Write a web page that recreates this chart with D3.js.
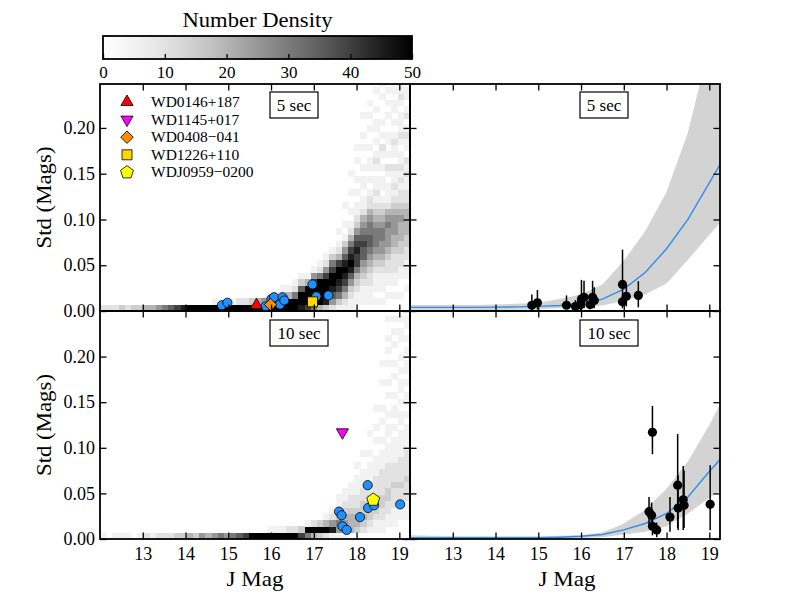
<!DOCTYPE html>
<html><head><meta charset="utf-8">
<script src="https://cdn.jsdelivr.net/npm/d3@7"></script>
<style>
body{margin:0;background:#fff}
svg{display:block}
text{font-family:"Liberation Serif","DejaVu Serif",serif;fill:#000}
</style>
</head><body>
<svg id="c" width="800" height="600"></svg>
<script>
// ---------------- data ----------------
const xTicks = [13,14,15,16,17,18,19];
const yTicks = [0,0.05,0.10,0.15,0.20];
const cbTicks = [0,10,20,30,40,50];
const panelLabels = ["5 sec","10 sec"];
const legendNames = ["WD0146+187","WD1145+017","WD0408\u2212041","WD1226+110","WDJ0959\u22120200"];
const legendKinds = ["tri","tridown","dia","sq","pent"];

// 2D histogram (number density), bins of 0.145 mag in J starting at 12.0 and 0.007 mag in Std.
// each string = one J column, characters = rows from Std=0 upward; '.'/'0' = 0, digit d = 5*d, 'X' = 50
const histJ0 = 12.0, histDJ = 0.145, histDS = 0.007;
const hist5 = [
 "2","2","2","3","2","3","3","4","4","5","6","7","8","9",
 "X","X","X","X","X1","X","X1","X1","X2","X2","X3","X4","X5","X61",
 "X72","X831","XX41","XX621","9XX731","8XXX41","6XXX851","4XXXX621","39XXX8521",
 "2579XX8631","13689XX8421.1","124689X97531.1..1",
 "1123579X986421.1..1..1","01123468898753211.1.1..1.1",
 "011123457787654211.11.1..1.1..1","0111223456776654221.1.11.1..1.1.1",
 "010111234566654321211.121.1.11.1..1",
 "010111234556654321.11.1.12.1.1...1.1",
 "00101122345556542111.12.1.11..1.1.1.",
 "00101122234455543212112.1121.1.11.1.",
 "0010011223344454322121211.12111.1211",
 "000101112233444432211212.1121.21.11."
];
const hist10 = [
 "1",".","1","1","1",".","1","2","1","2","2","2","3","3",
 "4","3","5","4","5","6","5","6","7","8","X","X","X","X1",
 "X1","X1","X2","X2","83","6X1","4X2","3X3","2X41","19521",
 "1563211","14543211","044432211","0344322111.1",
 "02343322111..1","012333322111.1..1","0112333222111..1.1..1",
 "01122332222111.1..1.1...1..1",
 "001122332222111.11.1..1.1..1.1.1..1",
 "0011122232221111.1.11.1..1.1..1.1.1",
 "00011122322221111.11.1.11.1.1..11.1",
 "000111222322221111.1.11.1.11.1.1.11"
];

// measured stars, 5 sec
const s5J   = [14.85,14.98,15.66,15.87,15.99,16.01,16.07,16.21,16.27,16.31,16.97,17.06,16.97,17.34];
const s5Std = [0.0063,0.009,0.0063,0.005,0.007,0.013,0.015,0.007,0.015,0.0115,0.029,0.016,0.010,0.017];
const s5Lo  = [0.001,0.0016,0.002,0.001,0.001,0.002,0.003,0.002,0.003,0.003,0.007,0.005,0.003,0.004];
const s5Hi  = [0.018,0.023,0.017,0.012,0.016,0.034,0.033,0.012,0.033,0.026,0.067,0.028,0.016,0.0325];
const s5Kind= ["c","c","tri","c","dia","c","c","c","c","c","c","c","sq","c"];
// measured stars, 10 sec
const s10J   = [17.59,17.65,17.67,17.77,18.08,18.26,18.27,18.41,19.02,17.67,18.39];
const s10Std = [0.030,0.026,0.014,0.010,0.024,0.059,0.034,0.037,0.038,0.117,0.043];
const s10Lo  = [0.015,0.010,0.004,0.002,0.008,0.012,0.010,0.012,0.010,0.093,0.010];
const s10Hi  = [0.046,0.040,0.025,0.018,0.046,0.115,0.070,0.075,0.081,0.146,0.080];
const s10Kind= ["c","c","c","c","c","c","c","c","c","tridown","pent"];

// median trend and spread
const curveJ  = [12,12.5,13,13.5,14,14.5,15,15.5,16,16.5,17,17.5,18,18.5,19,19.5];
const med5    = [0.004,0.004,0.004,0.004,0.0042,0.0045,0.005,0.006,0.008,0.013,0.024,0.042,0.068,0.100,0.140,0.180];
const band5Lo = [0.001,0.001,0.001,0.001,0.0012,0.0015,0.002,0.003,0.004,0.006,0.011,0.018,0.030,0.056,0.083,0.110];
const band5Hi = [0.0065,0.0065,0.0065,0.0066,0.007,0.008,0.009,0.013,0.018,0.029,0.055,0.087,0.130,0.195,0.290,0.380];
const med10    = [0.0015,0.0015,0.0015,0.0015,0.0015,0.0015,0.0015,0.002,0.003,0.005,0.010,0.017,0.028,0.046,0.074,0.100];
const band10Lo = [0.0005,0.0005,0.0005,0.0005,0.0005,0.0005,0.0005,0.0007,0.001,0.002,0.005,0.008,0.014,0.028,0.045,0.060];
const band10Hi = [0.004,0.0035,0.003,0.003,0.003,0.003,0.003,0.0035,0.004,0.007,0.017,0.032,0.055,0.085,0.125,0.170];

// ---------------- drawing ----------------
const FONT = '"Liberation Serif","DejaVu Serif",serif';
const svg = d3.select("#c");
const defs = svg.append("defs");

const colX = {L:[100,410], R:[410,720]};
const rowY = {T:[84,311], B:[311,539]};
const yMax = {T:0.248, B:0.25};

const kindColor = {c:"#1e90ff",tri:"#ff0000",tridown:"#ff00ff",dia:"#ff8c00",sq:"#ffd700",pent:"#ffff00"};

function markerPath(kind){
  switch(kind){
    case "c": return d3.symbol(d3.symbolCircle, Math.PI*4.6*4.6)();
    case "tri": return d3.symbol(d3.symbolTriangle, 64)();
    case "tridown": return d3.symbol(d3.symbolTriangle, 64)();
    case "dia": return d3.symbol(d3.symbolSquare, 78)();
    case "sq": return d3.symbol(d3.symbolSquare, 100)();
    case "pent": {
      const r = 6.8, pts=[];
      for(let i=0;i<5;i++){const a=-Math.PI/2+i*2*Math.PI/5; pts.push([r*Math.cos(a), r*Math.sin(a)]);}
      return "M"+pts.map(p=>p.join(",")).join("L")+"Z";
    }
  }
}
function markerRot(kind){ return kind==="tridown"?180:(kind==="dia"?45:0); }

function makePanel(cKey, rKey, id){
  const x = d3.scaleLinear().domain([12,19.25]).range(colX[cKey]);
  const y = d3.scaleLinear().domain([0,yMax[rKey]]).range([rowY[rKey][1], rowY[rKey][0]]);
  defs.append("clipPath").attr("id",id).append("rect")
    .attr("x",colX[cKey][0]).attr("y",rowY[rKey][0])
    .attr("width",colX[cKey][1]-colX[cKey][0]).attr("height",rowY[rKey][1]-rowY[rKey][0]);
  const g = svg.append("g");
  const inner = g.append("g").attr("clip-path",`url(#${id})`);
  return {x,y,g,inner,cKey,rKey};
}

function drawHist(p, cols){
  const cells=[];
  cols.forEach((s,c)=>{for(let r=0;r<s.length;r++){const ch=s[r]; if(ch==="."||ch==="0") continue; cells.push({c,r,v: ch==="X"?50:(+ch)*5});}});
  p.inner.append("g").attr("shape-rendering","crispEdges").selectAll("rect").data(cells).join("rect")
    .attr("x",d=>p.x(histJ0+d.c*histDJ))
    .attr("width",d=>p.x(histJ0+(d.c+1)*histDJ)-p.x(histJ0+d.c*histDJ)+0.5)
    .attr("y",d=>p.y((d.r+1)*histDS))
    .attr("height",d=>p.y(d.r*histDS)-p.y((d.r+1)*histDS)+0.5)
    .attr("fill",d=>d3.interpolateGreys(d.v/50));
}

function drawMarkers(p, J, S, K){
  const data = J.map((j,i)=>({j,s:S[i],k:K[i]}));
  data.sort((a,b)=>(a.k==="c"?0:1)-(b.k==="c"?0:1));
  p.inner.append("g").selectAll("path").data(data).join("path")
    .attr("d",d=>markerPath(d.k))
    .attr("transform",d=>`translate(${p.x(d.j)},${p.y(d.s)}) rotate(${markerRot(d.k)})`)
    .attr("fill",d=>kindColor[d.k]).attr("stroke","#000").attr("stroke-width",0.8);
}

function drawTrend(p, med, lo, hi, J, S, L, H){
  const area = d3.area().x((d,i)=>p.x(curveJ[i])).y0((d,i)=>p.y(lo[i])).y1((d,i)=>p.y(hi[i]));
  p.inner.append("path").datum(curveJ).attr("d",area).attr("fill","#d3d3d3");
  const line = d3.line().x((d,i)=>p.x(curveJ[i])).y((d,i)=>p.y(med[i]));
  p.inner.append("path").datum(curveJ).attr("d",line).attr("fill","none").attr("stroke","#2f8fe8").attr("stroke-width",1.4);
  const data = J.map((j,i)=>({j,s:S[i],lo:L[i],hi:H[i]}));
  p.inner.append("g").selectAll("line").data(data).join("line")
    .attr("x1",d=>p.x(d.j)).attr("x2",d=>p.x(d.j))
    .attr("y1",d=>p.y(d.lo)).attr("y2",d=>p.y(d.hi))
    .attr("stroke","#000").attr("stroke-width",1.5);
  p.inner.append("g").selectAll("circle").data(data).join("circle")
    .attr("cx",d=>p.x(d.j)).attr("cy",d=>p.y(d.s)).attr("r",4.6).attr("fill","#000");
}

function drawFrame(p, showX, showY){
  const [x0,x1]=colX[p.cKey], [y0,y1]=rowY[p.rKey];
  const styleAxis = sel => { sel.select(".domain").remove(); sel.attr("font-family",FONT).attr("font-size",18);
    sel.selectAll(".tick line").attr("stroke","#000").attr("stroke-width",1.3); };
  p.g.append("g").attr("transform",`translate(0,${y1})`)
    .call(d3.axisBottom(p.x).tickValues(xTicks).tickSizeInner(-6.5).tickSizeOuter(0).tickPadding(8)
      .tickFormat(showX?d3.format("d"):()=>"")).call(styleAxis);
  p.g.append("g").attr("transform",`translate(0,${y0})`)
    .call(d3.axisTop(p.x).tickValues(xTicks).tickSizeInner(-6.5).tickSizeOuter(0).tickFormat(()=>"")).call(styleAxis);
  p.g.append("g").attr("transform",`translate(${x0},0)`)
    .call(d3.axisLeft(p.y).tickValues(yTicks).tickSizeInner(-6.5).tickSizeOuter(0).tickPadding(5)
      .tickFormat(showY?d3.format(".2f"):()=>"")).call(styleAxis);
  p.g.append("g").attr("transform",`translate(${x1},0)`)
    .call(d3.axisRight(p.y).tickValues(yTicks).tickSizeInner(-6.5).tickSizeOuter(0).tickFormat(()=>"")).call(styleAxis);
  p.g.append("rect").attr("x",x0).attr("y",y0).attr("width",x1-x0).attr("height",y1-y0)
    .attr("fill","none").attr("stroke","#000").attr("stroke-width",1.8);
}

function drawLabelBox(p, txt, w){
  const bx = colX[p.cKey][0]+170, by = rowY[p.rKey][0]+ (p.rKey==="T"?8:9);
  p.g.append("rect").attr("x",bx).attr("y",by).attr("width",w).attr("height",26)
    .attr("fill","#fff").attr("stroke","#000").attr("stroke-width",1.2);
  p.g.append("text").attr("x",bx+w/2).attr("y",by+18.5).attr("text-anchor","middle")
    .attr("font-size",17).text(txt);
}

// panels
const pTL = makePanel("L","T","clipTL");
const pTR = makePanel("R","T","clipTR");
const pBL = makePanel("L","B","clipBL");
const pBR = makePanel("R","B","clipBR");

drawHist(pTL, hist5);
drawHist(pBL, hist10);
drawMarkers(pTL, s5J, s5Std, s5Kind);
drawMarkers(pBL, s10J, s10Std, s10Kind);
drawTrend(pTR, med5, band5Lo, band5Hi, s5J, s5Std, s5Lo, s5Hi);
drawTrend(pBR, med10, band10Lo, band10Hi, s10J, s10Std, s10Lo, s10Hi);

drawFrame(pTL,false,true);
drawFrame(pTR,false,false);
drawFrame(pBL,true,true);
drawFrame(pBR,true,false);

drawLabelBox(pTL,panelLabels[0],48);
drawLabelBox(pTR,panelLabels[0],48);
drawLabelBox(pBL,panelLabels[1],58);
drawLabelBox(pBR,panelLabels[1],58);

// legend
const leg = svg.append("g");
legendNames.forEach((n,i)=>{
  const yy = 102 + i*17.6;
  leg.append("path").attr("d",markerPath(legendKinds[i]))
    .attr("transform",`translate(127,${yy}) rotate(${markerRot(legendKinds[i])})`)
    .attr("fill",kindColor[legendKinds[i]]).attr("stroke","#000").attr("stroke-width",0.8);
  leg.append("text").attr("x",151).attr("y",yy+5).attr("font-size",15.5).text(n);
});

// axis titles
[[255,"J Mag"],[567,"J Mag"]].forEach(([cx,t])=>{
  svg.append("text").attr("x",cx).attr("y",586).attr("text-anchor","middle").attr("font-size",21)
    .attr("textLength",57).attr("lengthAdjust","spacingAndGlyphs").text(t);
});
[197.5,425].forEach(cy=>{
  svg.append("text").attr("transform",`translate(51,${cy}) rotate(-90)`).attr("text-anchor","middle")
    .attr("font-size",21).attr("textLength",102).attr("lengthAdjust","spacingAndGlyphs").text("Std (Mags)");
});

// colorbar
const cbx = d3.scaleLinear().domain([0,50]).range([103,412]);
const grad = defs.append("linearGradient").attr("id","cbg").attr("x1","0%").attr("x2","100%");
d3.range(0,1.0001,0.05).forEach(t=>grad.append("stop").attr("offset",(t*100)+"%").attr("stop-color",d3.interpolateGreys(t)));
svg.append("rect").attr("x",cbx(0)).attr("y",36).attr("width",cbx(50)-cbx(0)).attr("height",23).attr("fill","url(#cbg)");
const cbAxis = svg.append("g").attr("transform","translate(0,59)")
  .call(d3.axisBottom(cbx).tickValues(cbTicks).tickSizeInner(-5).tickSizeOuter(0).tickPadding(7));
cbAxis.select(".domain").remove();
cbAxis.attr("font-family",FONT).attr("font-size",17);
cbAxis.selectAll(".tick line").attr("stroke","#000").attr("stroke-width",1.3);
svg.append("rect").attr("x",cbx(0)).attr("y",36).attr("width",cbx(50)-cbx(0)).attr("height",23)
  .attr("fill","none").attr("stroke","#000").attr("stroke-width",1.8);
svg.append("text").attr("x",(cbx(0)+cbx(50))/2).attr("y",27).attr("text-anchor","middle")
  .attr("font-size",20).attr("textLength",150).attr("lengthAdjust","spacingAndGlyphs").text("Number Density");
</script>
</body></html>
